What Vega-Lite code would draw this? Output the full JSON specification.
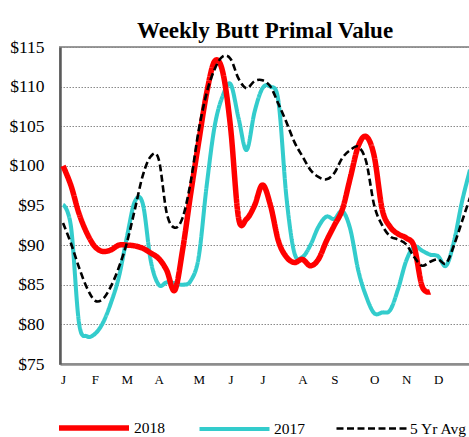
{
  "$schema": "https://vega.github.io/schema/vega-lite/v6.json",
  "autosize": {"type": "none"},
  "width": 410,
  "height": 317,
  "padding": {"left": 60, "top": 47, "right": 0, "bottom": 73},
  "background": "white",
  "title": {
    "text": "Weekly Butt Primal Value",
    "font": "Times New Roman, Liberation Serif, Times, DejaVu Serif, serif",
    "fontSize": 23,
    "fontWeight": "bold",
    "color": "black",
    "baseline": "alphabetic",
    "offset": 10,
    "dy": 33,
    "anchor": "middle"
  },
  "config": {
    "view": {"stroke": "#999999", "strokeWidth": 2},
    "font": "Times New Roman, Liberation Serif, Times, DejaVu Serif, serif"
  },
  "datasets": {
    "series": [
      {"series": "2017", "week": 0, "value": 95.1},
      {"series": "2017", "week": 1, "value": 92.3},
      {"series": "2017", "week": 2, "value": 80.2},
      {"series": "2017", "week": 3, "value": 78.5},
      {"series": "2017", "week": 4, "value": 78.8},
      {"series": "2017", "week": 5, "value": 80.2},
      {"series": "2017", "week": 6, "value": 82.7},
      {"series": "2017", "week": 7, "value": 86.0},
      {"series": "2017", "week": 8, "value": 91.0},
      {"series": "2017", "week": 9, "value": 95.5},
      {"series": "2017", "week": 10, "value": 95.2},
      {"series": "2017", "week": 11, "value": 88.0},
      {"series": "2017", "week": 12, "value": 85.0},
      {"series": "2017", "week": 13, "value": 85.3},
      {"series": "2017", "week": 14, "value": 85.2},
      {"series": "2017", "week": 15, "value": 85.0},
      {"series": "2017", "week": 16, "value": 85.5},
      {"series": "2017", "week": 17, "value": 88.5},
      {"series": "2017", "week": 18, "value": 97.5},
      {"series": "2017", "week": 19, "value": 105.0},
      {"series": "2017", "week": 20, "value": 108.8},
      {"series": "2017", "week": 21, "value": 110.3},
      {"series": "2017", "week": 22, "value": 106.0},
      {"series": "2017", "week": 23, "value": 102.0},
      {"series": "2017", "week": 24, "value": 106.8},
      {"series": "2017", "week": 25, "value": 109.8},
      {"series": "2017", "week": 26, "value": 110.0},
      {"series": "2017", "week": 27, "value": 108.1},
      {"series": "2017", "week": 28, "value": 96.0},
      {"series": "2017", "week": 29, "value": 89.0},
      {"series": "2017", "week": 30, "value": 88.5},
      {"series": "2017", "week": 31, "value": 90.0},
      {"series": "2017", "week": 32, "value": 92.3},
      {"series": "2017", "week": 33, "value": 93.6},
      {"series": "2017", "week": 34, "value": 93.3},
      {"series": "2017", "week": 35, "value": 94.3},
      {"series": "2017", "week": 36, "value": 92.0},
      {"series": "2017", "week": 37, "value": 86.8},
      {"series": "2017", "week": 38, "value": 83.5},
      {"series": "2017", "week": 39, "value": 81.4},
      {"series": "2017", "week": 40, "value": 81.5},
      {"series": "2017", "week": 41, "value": 81.8},
      {"series": "2017", "week": 42, "value": 84.5},
      {"series": "2017", "week": 43, "value": 88.0},
      {"series": "2017", "week": 44, "value": 89.8},
      {"series": "2017", "week": 45, "value": 89.3},
      {"series": "2017", "week": 46, "value": 88.8},
      {"series": "2017", "week": 47, "value": 88.6},
      {"series": "2017", "week": 48, "value": 87.4},
      {"series": "2017", "week": 49, "value": 90.5},
      {"series": "2017", "week": 50, "value": 95.5},
      {"series": "2017", "week": 51, "value": 99.5},
      {"series": "2018", "week": 0, "value": 100.0},
      {"series": "2018", "week": 1, "value": 97.5},
      {"series": "2018", "week": 2, "value": 94.0},
      {"series": "2018", "week": 3, "value": 91.5},
      {"series": "2018", "week": 4, "value": 89.8},
      {"series": "2018", "week": 5, "value": 89.2},
      {"series": "2018", "week": 6, "value": 89.4},
      {"series": "2018", "week": 7, "value": 90.0},
      {"series": "2018", "week": 8, "value": 90.0},
      {"series": "2018", "week": 9, "value": 89.9},
      {"series": "2018", "week": 10, "value": 89.6},
      {"series": "2018", "week": 11, "value": 89.0},
      {"series": "2018", "week": 12, "value": 88.3},
      {"series": "2018", "week": 13, "value": 86.8},
      {"series": "2018", "week": 14, "value": 84.3},
      {"series": "2018", "week": 15, "value": 89.5},
      {"series": "2018", "week": 16, "value": 96.5},
      {"series": "2018", "week": 17, "value": 103.0},
      {"series": "2018", "week": 18, "value": 109.2},
      {"series": "2018", "week": 19, "value": 113.2},
      {"series": "2018", "week": 20, "value": 111.9},
      {"series": "2018", "week": 21, "value": 104.8},
      {"series": "2018", "week": 22, "value": 93.4},
      {"series": "2018", "week": 23, "value": 93.3},
      {"series": "2018", "week": 24, "value": 95.0},
      {"series": "2018", "week": 25, "value": 97.6},
      {"series": "2018", "week": 26, "value": 95.0},
      {"series": "2018", "week": 27, "value": 90.5},
      {"series": "2018", "week": 28, "value": 88.5},
      {"series": "2018", "week": 29, "value": 87.8},
      {"series": "2018", "week": 30, "value": 88.2},
      {"series": "2018", "week": 31, "value": 87.4},
      {"series": "2018", "week": 32, "value": 88.2},
      {"series": "2018", "week": 33, "value": 90.5},
      {"series": "2018", "week": 34, "value": 92.5},
      {"series": "2018", "week": 35, "value": 94.5},
      {"series": "2018", "week": 36, "value": 98.5},
      {"series": "2018", "week": 37, "value": 102.5},
      {"series": "2018", "week": 38, "value": 103.7},
      {"series": "2018", "week": 39, "value": 101.2},
      {"series": "2018", "week": 40, "value": 94.5},
      {"series": "2018", "week": 41, "value": 92.3},
      {"series": "2018", "week": 42, "value": 91.4},
      {"series": "2018", "week": 43, "value": 90.9},
      {"series": "2018", "week": 44, "value": 89.8},
      {"series": "2018", "week": 45, "value": 84.8},
      {"series": "2018", "week": 46, "value": 84.1},
      {"series": "5 Yr Avg", "week": 0, "value": 92.8},
      {"series": "5 Yr Avg", "week": 1, "value": 90.2},
      {"series": "5 Yr Avg", "week": 2, "value": 87.2},
      {"series": "5 Yr Avg", "week": 3, "value": 84.6},
      {"series": "5 Yr Avg", "week": 4, "value": 83.0},
      {"series": "5 Yr Avg", "week": 5, "value": 83.2},
      {"series": "5 Yr Avg", "week": 6, "value": 84.8},
      {"series": "5 Yr Avg", "week": 7, "value": 87.2},
      {"series": "5 Yr Avg", "week": 8, "value": 90.3},
      {"series": "5 Yr Avg", "week": 9, "value": 94.5},
      {"series": "5 Yr Avg", "week": 10, "value": 98.8},
      {"series": "5 Yr Avg", "week": 11, "value": 101.2},
      {"series": "5 Yr Avg", "week": 12, "value": 100.8},
      {"series": "5 Yr Avg", "week": 13, "value": 94.0},
      {"series": "5 Yr Avg", "week": 14, "value": 92.2},
      {"series": "5 Yr Avg", "week": 15, "value": 93.5},
      {"series": "5 Yr Avg", "week": 16, "value": 98.0},
      {"series": "5 Yr Avg", "week": 17, "value": 104.5},
      {"series": "5 Yr Avg", "week": 18, "value": 109.2},
      {"series": "5 Yr Avg", "week": 19, "value": 112.2},
      {"series": "5 Yr Avg", "week": 20, "value": 113.8},
      {"series": "5 Yr Avg", "week": 21, "value": 113.5},
      {"series": "5 Yr Avg", "week": 22, "value": 111.0},
      {"series": "5 Yr Avg", "week": 23, "value": 109.8},
      {"series": "5 Yr Avg", "week": 24, "value": 110.7},
      {"series": "5 Yr Avg", "week": 25, "value": 110.8},
      {"series": "5 Yr Avg", "week": 26, "value": 110.0},
      {"series": "5 Yr Avg", "week": 27, "value": 107.8},
      {"series": "5 Yr Avg", "week": 28, "value": 105.5},
      {"series": "5 Yr Avg", "week": 29, "value": 103.0},
      {"series": "5 Yr Avg", "week": 30, "value": 101.2},
      {"series": "5 Yr Avg", "week": 31, "value": 99.5},
      {"series": "5 Yr Avg", "week": 32, "value": 98.6},
      {"series": "5 Yr Avg", "week": 33, "value": 98.3},
      {"series": "5 Yr Avg", "week": 34, "value": 99.1},
      {"series": "5 Yr Avg", "week": 35, "value": 101.0},
      {"series": "5 Yr Avg", "week": 36, "value": 102.0},
      {"series": "5 Yr Avg", "week": 37, "value": 102.4},
      {"series": "5 Yr Avg", "week": 38, "value": 100.5},
      {"series": "5 Yr Avg", "week": 39, "value": 95.0},
      {"series": "5 Yr Avg", "week": 40, "value": 92.5},
      {"series": "5 Yr Avg", "week": 41, "value": 91.1},
      {"series": "5 Yr Avg", "week": 42, "value": 90.7},
      {"series": "5 Yr Avg", "week": 43, "value": 90.1},
      {"series": "5 Yr Avg", "week": 44, "value": 88.5},
      {"series": "5 Yr Avg", "week": 45, "value": 87.4},
      {"series": "5 Yr Avg", "week": 46, "value": 87.9},
      {"series": "5 Yr Avg", "week": 47, "value": 88.2},
      {"series": "5 Yr Avg", "week": 48, "value": 87.7},
      {"series": "5 Yr Avg", "week": 49, "value": 90.0},
      {"series": "5 Yr Avg", "week": 50, "value": 93.0},
      {"series": "5 Yr Avg", "week": 51, "value": 96.0}
    ]
  },
  "data": {"name": "series"},
  "encoding": {
    "x": {
      "field": "week",
      "type": "quantitative",
      "scale": {"domain": [-0.38, 51.0], "nice": false, "zero": false},
      "axis": {
        "title": null,
        "values": [0, 4, 8, 12, 17, 21, 25, 30, 34, 39, 43, 47],
        "labelExpr": "['J','F','M','A','M','J','J','A','S','O','N','D'][indexof([0,4,8,12,17,21,25,30,34,39,43,47], datum.value)]",
        "labelFont": "Times New Roman, Liberation Serif, Times, DejaVu Serif, serif",
        "labelFontSize": 13,
        "labelColor": "black",
        "labelPadding": 9,
        "ticks": false,
        "grid": false,
        "domainColor": "#8c8c8c",
        "domainWidth": 2.5
      }
    },
    "y": {
      "field": "value",
      "type": "quantitative",
      "scale": {"domain": [75, 115], "nice": false, "zero": false},
      "axis": {
        "title": null,
        "values": [75, 80, 85, 90, 95, 100, 105, 110, 115],
        "format": "$d",
        "labelFont": "Times New Roman, Liberation Serif, Times, DejaVu Serif, serif",
        "labelFontSize": 17.5,
        "labelColor": "black",
        "labelPadding": 16,
        "ticks": false,
        "grid": true,
        "gridColor": "#8a8a8a",
        "gridDash": [1.5, 1.5],
        "gridWidth": 1,
        "domainColor": "#5a5a5a",
        "domainWidth": 2.5
      }
    },
    "color": {
      "field": "series",
      "type": "nominal",
      "scale": {"domain": ["2018", "2017", "5 Yr Avg"], "range": ["#ff0000", "#33cccc", "#000000"]},
      "legend": {
        "orient": "none",
        "legendX": -4,
        "legendY": 343,
        "direction": "horizontal",
        "title": null,
        "symbolType": "stroke",
        "symbolSize": 4900,
        "labelFont": "Times New Roman, Liberation Serif, Times, DejaVu Serif, serif",
        "labelFontSize": 15.5,
        "labelColor": "black",
        "labelOffset": 2,
        "columnPadding": 26,
        "padding": 0
      }
    },
    "strokeDash": {
      "field": "series",
      "type": "nominal",
      "scale": {"domain": ["2018", "2017", "5 Yr Avg"], "range": [[1, 0], [1, 0], [7, 3.5]]}
    },
    "strokeWidth": {
      "field": "series",
      "type": "nominal",
      "scale": {"domain": ["2018", "2017", "5 Yr Avg"], "range": [5.5, 2.6, 2.6]}
    }
  },
  "layer": [
    {"transform": [{"filter": "datum.series == '2017'"}], "mark": {"type": "line", "interpolate": "cardinal", "clip": true}},
    {"transform": [{"filter": "datum.series == '2018'"}], "mark": {"type": "line", "interpolate": "cardinal", "clip": true}},
    {"transform": [{"filter": "datum.series == '5 Yr Avg'"}], "mark": {"type": "line", "interpolate": "cardinal", "clip": true}}
  ]
}
